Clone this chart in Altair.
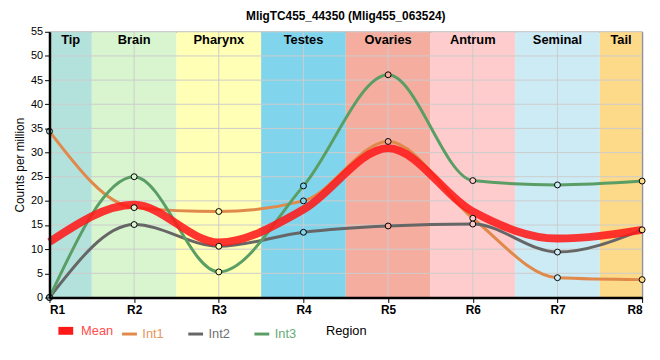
import altair as alt
import pandas as pd

regions = ["R1", "R2", "R3", "R4", "R5", "R6", "R7", "R8"]
xpos = [1, 2, 3, 4, 5, 6, 7, 8]
mean = [11.5, 19.2, 11.4, 18.2, 30.9, 17.8, 12.2, 14.0]
int1 = [34.4, 18.6, 17.8, 20.0, 32.3, 16.4, 4.1, 3.7]
int2 = [0.0, 15.1, 10.6, 13.5, 14.8, 15.2, 9.4, 14.0]
int3 = [0.0, 25.0, 5.3, 23.1, 46.1, 24.2, 23.3, 24.1]

band_names = ["Tip", "Brain", "Pharynx", "Testes", "Ovaries", "Antrum", "Seminal", "Tail"]
band_start = [1, 1.5, 2.5, 3.5, 4.5, 5.5, 6.5, 7.5]
band_end = [1.5, 2.5, 3.5, 4.5, 5.5, 6.5, 7.5, 8]
band_colors = ["#b3e2dd", "#d8f5d0", "#ffffb5", "#80d5ec", "#f5ad9f", "#fecccc", "#cdebf5", "#fdd98a"]

series_names = ["Mean", "Int1", "Int2", "Int3"]
series_colors = ["#ff1a1a", "#e0894a", "#666666", "#5a9e65"]
series_widths = [8, 3, 3, 3]
label_colors = ["#ff4d4d", "#e8955a", "#707070", "#66aa77"]

y_ticks = list(range(0, 56, 5))

bands = pd.DataFrame({"name": band_names, "start": band_start, "end": band_end, "color": band_colors})
bands["mid"] = (bands["start"] + bands["end"]) / 2

rows = []
for name, vals in zip(series_names, [mean, int1, int2, int3]):
    for x, r, v, c in zip(xpos, regions, vals, band_colors):
        rows.append({"series": name, "x": x, "region": r, "value": v, "fill": c})
df = pd.DataFrame(rows)
ints = df[df.series != "Mean"]
means = df[df.series == "Mean"]

xscale = alt.Scale(domain=[1, 8], nice=False, zero=False)
yscale = alt.Scale(domain=[0, 55], nice=False)
xaxis = alt.Axis(values=xpos, labelExpr="'R' + datum.value", title="Region", grid=False,
                 labelFontWeight="bold", labelFontSize=12, titleFontSize=13,
                 titleFontWeight="normal", titlePadding=9, zindex=1, labelOverlap=False)
yaxis = alt.Axis(values=y_ticks, title="Counts per million", grid=False, labelOverlap=False,
                 labelFontSize=11, titleFontSize=12, titleFontWeight="normal", zindex=1)


def X(field):
    return alt.X(field, scale=xscale, axis=xaxis)


def Y(field):
    return alt.Y(field, scale=yscale, axis=yaxis)


color_scale = alt.Scale(domain=series_names, range=series_colors)
width_scale = alt.Scale(type="ordinal", domain=series_names, range=series_widths)

label_expr = " : ".join(
    [f"datum.label == '{n}' ? '{c}'" for n, c in zip(series_names, label_colors)]
) + " : 'black'"

legend = alt.Legend(orient="none", legendX=5, legendY=291, direction="horizontal",
                    title=None, symbolType="stroke", symbolSize=225, labelFontSize=13,
                    labelColor=alt.ExprRef(expr=label_expr), columnPadding=2,
                    gridAlign="all", labelOffset=4, symbolOpacity=1)

band_layer = alt.Chart(bands).mark_rect().encode(
    x=X("start:Q"),
    x2="end:Q",
    y=alt.value(0),
    y2=alt.value(269),
    fill=alt.Fill("color:N", scale=None),
)

ygrid = alt.Chart(pd.DataFrame({"v": y_ticks})).mark_rule(color="#cccccc", strokeWidth=1).encode(
    y=Y("v:Q")
)
xgrid = alt.Chart(pd.DataFrame({"v": xpos})).mark_rule(color="#cccccc", strokeWidth=1).encode(
    x=X("v:Q")
)

band_text = alt.Chart(bands).mark_text(fontWeight="bold", fontSize=13, baseline="top", dy=2,
                                       color="black").encode(
    x=X("mid:Q"),
    y=alt.datum(55, scale=yscale, axis=yaxis),
    text="name:N",
)

int_lines = alt.Chart(ints).mark_line(interpolate="monotone").encode(
    x=X("x:Q"),
    y=Y("value:Q"),
    color=alt.Color("series:N", scale=color_scale, legend=legend),
    strokeWidth=alt.StrokeWidth("series:N", scale=width_scale, legend=legend),
)
mean_line = alt.Chart(means).mark_line(interpolate="monotone", opacity=0.88).encode(
    x=X("x:Q"),
    y=Y("value:Q"),
    color=alt.Color("series:N", scale=color_scale, legend=legend),
    strokeWidth=alt.StrokeWidth("series:N", scale=width_scale, legend=legend),
)
points = alt.Chart(ints).mark_point(shape="circle", size=36, filled=False, stroke="black",
                                    strokeWidth=1, opacity=1).encode(
    x=X("x:Q"),
    y=Y("value:Q"),
    fill=alt.Fill("fill:N", scale=None),
)

chart = alt.layer(band_layer, ygrid, xgrid, band_text, int_lines, mean_line, points).properties(
    width=600, height=269,
    padding={"left": 42, "top": 22, "right": 10, "bottom": 45},
    autosize="none",
    title=alt.TitleParams("MligTC455_44350 (Mlig455_063524)", fontSize=12, fontWeight="bold",
                          font="Liberation Sans", anchor="middle", offset=3, color="black"),
).configure_axis(
    domainColor="black", domainWidth=2.5, tickColor="black", labelColor="black",
    titleColor="black", labelFont="Liberation Sans", titleFont="Liberation Sans",
).configure_legend(
    labelFont="Liberation Sans",
).configure_view(
    stroke="black", strokeWidth=1,
).configure_text(font="Liberation Sans")

chart.save("out.html", embed_options={"renderer": "svg", "actions": False})
